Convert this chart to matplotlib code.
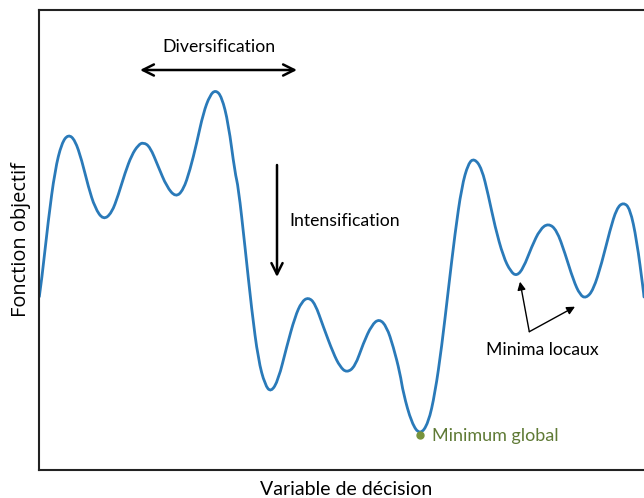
import numpy as np
import matplotlib.pyplot as plt
from matplotlib.path import Path
from matplotlib.patches import PathPatch

plt.rcParams['font.family'] = ['Lato', 'DejaVu Sans']

# points (x: decision variable, y: objective)
x_vals = [0.3, 2.7, 9.3, 16, 22.7, 29.3, 36, 42.7, 49.3, 56,
          64.3, 72.7, 79.3, 86, 92.7, 99.3, 104.3, 111, 119.3, 127.7,
          136.7, 144.3, 151, 157.7, 164.3, 171, 176.7, 182.7, 189.3, 196,
          199.3, 206, 212.7, 219.3, 226, 232, 239.3, 247.7, 256, 262.7,
          269.3, 276, 284.3, 294.3, 301, 307.7, 316, 324.3, 332.7, 340.3,
          347.7, 354.3, 361, 364.3, 372.7, 381, 389.3, 396, 402.7, 409.3,
          416, 422.7, 429.3, 435.3, 442.7, 449.3, 456, 464.3, 471.7, 477.7,
          484.3, 492.7, 501, 509.3, 517.7, 526, 534.3, 541, 547, 554.3,
          562.7, 571, 577.7, 584.3, 591, 597.7, 604.3, 605]
y_vals = [173.3, 190, 250, 300, 327, 335.7, 330, 310, 283.3, 262,
          250, 257, 275, 297, 315, 325, 327.7, 323.3, 303.3, 283.3,
          272.7, 280, 300, 327, 357, 375, 380, 373.3, 347, 297,
          283.3, 223.3, 160, 110, 85, 77.7, 90, 123.3, 153.3, 168.3,
          172.7, 166.7, 143.3, 116.7, 103.3, 97.3, 103.3, 126.7, 145, 151.3,
          143.3, 123.3, 97, 76.7, 46.7, 35, 46.7, 76.7, 123.3, 180,
          236.7, 283.3, 306.7, 311.7, 301.7, 275, 243.3, 213.3, 198.3, 194,
          201.7, 223.3, 240.7, 246.7, 240, 216.7, 190, 175, 171.7, 180,
          206.7, 240, 261.7, 267.7, 261.7, 230, 180, 173]

global_min = (381, 35)
local_minima = [(481, 188.3), (536, 163.3)]
arrow_base = (490.3, 138.3)

fig = plt.figure(figsize=(6.44, 4.98), dpi=100)
ax = fig.add_axes([39 / 644, 28 / 498, 615 / 644, 460 / 498])

# smooth the read points with quadratic bezier segments
pts = np.column_stack([x_vals, y_vals])
verts = [pts[0]]
codes = [Path.MOVETO]
for i in range(1, len(pts) - 1):
    verts += [pts[i], (pts[i] + pts[i + 1]) / 2]
    codes += [Path.CURVE3, Path.CURVE3]
verts.append(pts[-1])
codes.append(Path.LINETO)
ax.add_patch(PathPatch(Path(verts, codes), facecolor='none',
                       edgecolor='#2a7ab9', linewidth=2.0, capstyle='round'))

ax.plot(*global_min, 'o', color='#77933c', markersize=5, zorder=3)
ax.text(global_min[0] + 12, global_min[1] - 1, 'Minimum global', color='#5f7a35',
        fontsize=13, va='center', ha='left')

# Diversification
ax.annotate('', xy=(101, 400), xytext=(258, 400),
            arrowprops=dict(arrowstyle='<->', color='black', lw=1.8,
                            mutation_scale=20, shrinkA=0, shrinkB=0))
ax.text(180, 423, 'Diversification', fontsize=12.7, ha='center', va='center')

# Intensification
ax.annotate('', xy=(238, 193), xytext=(238, 305),
            arrowprops=dict(arrowstyle='->', color='black', lw=1.8,
                            mutation_scale=20, shrinkA=0, shrinkB=0))
ax.text(250, 249, 'Intensification', fontsize=12.7, ha='left', va='center')

# Minima locaux
for pt in local_minima:
    ax.annotate('', xy=pt, xytext=arrow_base,
                arrowprops=dict(arrowstyle='-|>', color='black', lw=1.0,
                                mutation_scale=12, shrinkA=0, shrinkB=0))
ax.text(503.5, 120, 'Minima locaux', fontsize=12.7, ha='center', va='center')

ax.set_xlim(0, 615)
ax.set_ylim(0, 460)
ax.set_xticks([])
ax.set_yticks([])
ax.spines['right'].set_visible(False)
for s in ['left', 'top', 'bottom']:
    ax.spines[s].set_linewidth(1.5)
    ax.spines[s].set_color('#222222')

ax.set_xlabel('Variable de décision', fontsize=14, labelpad=8)
ax.set_ylabel('Fonction objectif', fontsize=14.4, labelpad=6,
              family=['Open Sans', 'DejaVu Sans'])

fig.savefig('out.png', dpi=100)
